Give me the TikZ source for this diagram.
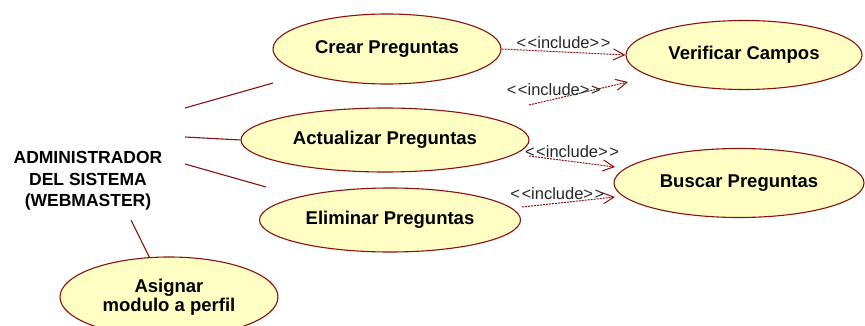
\documentclass[tikz,border=0pt]{standalone}
\usepackage{fontspec}
\setmainfont{Liberation Sans}
\usetikzlibrary{shapes.geometric,arrows.meta}
\definecolor{umlred}{HTML}{8B1010}
\definecolor{umlfill}{HTML}{FFFFC4}
\newcommand{\incltext}{{<}\kern1.5pt{<}include{>}\kern1.5pt{>}}
\begin{document}
\begin{tikzpicture}[x=1pt, y=-1pt,
        usecase/.style={
            draw=umlred, fill=umlfill, ellipse, line width=1.1pt, inner sep=0pt,
            font=\fontsize{18.5}{21}\selectfont\bfseries, align=center
        },
        assoc/.style={umlred, line width=1.1pt},
        incl/.style={umlred, line width=1pt, dash pattern=on 2pt off 1pt,
            -{Straight Barb[length=11pt, width=11pt, line width=1pt]}},
        incllabel/.style={font=\fontsize{16.5}{18}\selectfont, inner sep=3pt, text=black!85}
    ]
    \useasboundingbox (0,0) rectangle (865,326);
    \node[usecase, minimum width=228, minimum height=70] (C) at (387, 49) {Crear Preguntas};
    \node[usecase, minimum width=288, minimum height=64] (A) at (385, 140) {Actualizar Preguntas};
    \node[usecase, minimum width=261, minimum height=64] (E) at (390, 220) {Eliminar Preguntas};
    \node[usecase, minimum width=236, minimum height=69] (V) at (744, 55) {Verificar Campos};
    \node[usecase, minimum width=250, minimum height=69] (B) at (739, 183) {Buscar Preguntas};
    \node[usecase, minimum width=218, minimum height=80] (P) at (169, 297) {Asignar\\[-2pt]modulo a perfil};
    \node[align=center, font=\fontsize{17.5}{21.5}\selectfont\bfseries] (W) at (88, 181)
        {ADMINISTRADOR\\DEL SISTEMA\\(WEBMASTER)};

    % free ends
    \coordinate (w1) at (185, 108);
    \coordinate (w2) at (185, 137);
    \coordinate (w3) at (185, 164);
    \coordinate (w4) at (131, 220);
    \coordinate (c1) at (273, 83);
    \coordinate (e1) at (266, 187);
    \coordinate (a1) at (529, 105);
    \coordinate (a2) at (529, 156);
    \coordinate (e2) at (522, 207);
    \coordinate (v1) at (628, 82);
    \coordinate (b1) at (615, 167);
    \coordinate (b2) at (615, 197);

    % associations
    \draw[assoc] (w1) -- (c1);
    \draw[assoc] (w2) -- (A.west);
    \draw[assoc] (w3) -- (e1);
    \draw[assoc] (w4) -- (P);

    % includes
    \draw[incl] (C.east) -- (V.west) node[midway, above, incllabel] {\incltext};
    \draw[incl] (a1) -- (v1) node[pos=0.25, above, incllabel] {\incltext};
    \draw[incl] (a2) -- (b1) node[midway, above, incllabel] {\incltext};
    \draw[incl] (e2) -- (b2) node[pos=0.38, above, incllabel] {\incltext};
\end{tikzpicture}
\end{document}
